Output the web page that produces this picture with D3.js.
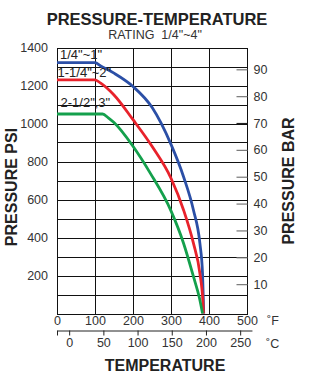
<!DOCTYPE html>
<html>
<head>
<meta charset="utf-8">
<script src="https://cdn.jsdelivr.net/npm/d3@7"></script>
<style>
  body { margin: 0; background: #fff; }
  text { font-family: "Liberation Sans", Arial, sans-serif; }
</style>
</head>
<body>
<svg id="chart" width="324" height="380"></svg>
<script>
// Valve size groups and their line colours
const sizeLabels = ['1/4"~1"', '1-1/4"~2"', '2-1/2",3"'];
const sizeColors = ['#2b4fa6', '#e8222b', '#14a04c'];

// Pressure (psi) against temperature (°F) for each size group
const tempsSmall = [0, 100, 115, 150, 200, 250, 300, 333, 359, 376, 383, 385, 386];
const psiSmall   = [1320, 1320, 1303, 1265, 1195, 1085, 890, 720, 545, 370, 210, 80, 0];

const tempsMedium = [0, 100, 115, 150, 200, 250, 300, 333, 359, 376, 384, 385.5];
const psiMedium   = [1230, 1230, 1212, 1150, 1020, 880, 712, 545, 370, 212, 60, 0];

const tempsLarge = [0, 120, 135, 150, 200, 245, 300, 333, 359, 375, 383];
const psiLarge   = [1050, 1050, 1030, 1005, 880, 740, 540, 370, 195, 80, 0];

// Axis ticks
const psiTicks = [200, 400, 600, 800, 1000, 1200, 1400];
const barTicks = [10, 20, 30, 40, 50, 60, 70, 80, 90];
const fahrenheitTicks = [0, 100, 200, 300, 400, 500];
const celsiusTicks = [0, 50, 100, 150, 200, 250];

const series = [
  { label: sizeLabels[0], color: sizeColors[0], temps: tempsSmall,  psi: psiSmall },
  { label: sizeLabels[1], color: sizeColors[1], temps: tempsMedium, psi: psiMedium },
  { label: sizeLabels[2], color: sizeColors[2], temps: tempsLarge,  psi: psiLarge }
];

const svg = d3.select('#chart');
const plotLeft = 57, plotRight = 247, plotTop = 47.5, plotBottom = 313.5;

const x = d3.scaleLinear().domain([0, 500]).range([plotLeft, plotRight]);
const y = d3.scaleLinear().domain([0, 1400]).range([plotBottom, plotTop]);
const yBar = d3.scaleLinear().domain([0, 90]).range([311, 69.3]);
const fToC = f => (f - 32) * 5 / 9;
const celsiusEnd = 513;
const xC = d3.scaleLinear().domain([fToC(0), fToC(celsiusEnd)]).range([x(0), x(celsiusEnd)]);

const crisp = v => Math.round(v) + 0.5;
const plain = d3.format('d');

// Title
svg.append('text').attr('x', 157).attr('y', 25).attr('text-anchor', 'middle')
  .attr('font-size', 16.5).attr('font-weight', 'bold').attr('fill', '#222')
  .text('PRESSURE-TEMPERATURE');
svg.append('text').attr('x', 155).attr('y', 38.5).attr('text-anchor', 'middle')
  .attr('font-size', 12.5).attr('fill', '#333')
  .text('RATING\u00a0\u00a01/4"~4"');

// Grid: every 100 psi and every 100 °F
const grid = svg.append('g').attr('stroke', '#111').attr('stroke-width', 1);
grid.selectAll('line.h').data(d3.range(0, 1401, 100)).join('line')
  .attr('x1', crisp(x(0)) - 0.5).attr('x2', crisp(x(500)) + 0.5)
  .attr('y1', d => crisp(y(d))).attr('y2', d => crisp(y(d)));
grid.selectAll('line.v').data(fahrenheitTicks).join('line')
  .attr('y1', crisp(y(1400))).attr('y2', crisp(y(0)))
  .attr('x1', d => crisp(x(d))).attr('x2', d => crisp(x(d)));

// Left psi axis
const axisL = svg.append('g').attr('transform', `translate(${x(0)},0)`)
  .call(d3.axisLeft(y).tickValues(psiTicks).tickFormat(plain).tickSize(0).tickPadding(9));
axisL.select('.domain').remove();
axisL.selectAll('text').attr('font-size', 12.5).attr('fill', '#333').attr('font-family', null);

// Right bar axis, ticks pointing into the plot
const axisR = svg.append('g').attr('transform', `translate(${crisp(x(500))},0)`)
  .call(d3.axisRight(yBar).tickValues(barTicks).tickFormat(plain).tickSizeInner(-11).tickSizeOuter(0).tickPadding(6));
axisR.select('.domain').remove();
axisR.selectAll('line').attr('stroke', d => d === 70 ? '#222' : '#777').attr('stroke-width', 1.2);
axisR.selectAll('text').attr('font-size', 12.5).attr('fill', '#333').attr('font-family', null);

// Bottom °F axis
const axisF = svg.append('g').attr('transform', `translate(0,${y(0)})`)
  .call(d3.axisBottom(x).tickValues(fahrenheitTicks).tickFormat(plain).tickSize(0).tickPadding(3));
axisF.select('.domain').remove();
axisF.selectAll('text').attr('font-size', 12.5).attr('fill', '#333').attr('font-family', null);
svg.append('text').attr('x', 267).attr('y', 325).attr('font-size', 12.5).attr('fill', '#333').text('˚F');

// Celsius scale below
const axisC = svg.append('g').attr('transform', 'translate(0,330.5)')
  .call(d3.axisBottom(xC).tickValues(celsiusTicks).tickFormat(plain).tickSizeInner(5).tickSizeOuter(0).tickPadding(3));
axisC.select('.domain').attr('stroke', '#222');
axisC.selectAll('line').attr('stroke', '#222');
axisC.append('line').attr('x1', crisp(x(0))).attr('x2', crisp(x(0))).attr('y1', 0).attr('y2', 5).attr('stroke', '#222');
axisC.selectAll('text').attr('font-size', 12.5).attr('fill', '#333').attr('font-family', null);
svg.append('text').attr('x', 266).attr('y', 348).attr('font-size', 12.5).attr('fill', '#333').text('˚C');

// Axis titles
svg.append('text').attr('transform', 'translate(17,187) rotate(-90)').attr('text-anchor', 'middle')
  .attr('font-size', 16).attr('font-weight', 'bold').attr('fill', '#222').text('PRESSURE PSI');
svg.append('text').attr('transform', 'translate(294,181) rotate(-90)').attr('text-anchor', 'middle')
  .attr('font-size', 16).attr('font-weight', 'bold').attr('fill', '#222').text('PRESSURE BAR');
svg.append('text').attr('x', 165).attr('y', 371).attr('text-anchor', 'middle')
  .attr('font-size', 16).attr('font-weight', 'bold').attr('fill', '#222').text('TEMPERATURE');

// Rating curves
const line = d3.line().x(d => x(d[0])).y(d => y(d[1])).curve(d3.curveMonotoneX);
svg.append('g').selectAll('path').data(series).join('path')
  .attr('d', s => line(d3.zip(s.temps, s.psi)))
  .attr('fill', 'none').attr('stroke', s => s.color).attr('stroke-width', 2.8)
  .attr('stroke-linejoin', 'round');

// Size labels above each curve's flat section
const labelPos = [[60, 58.5], [57.5, 77], [60.5, 107]];
svg.append('g').selectAll('text').data(series).join('text')
  .attr('x', (s, i) => labelPos[i][0]).attr('y', (s, i) => labelPos[i][1])
  .attr('font-size', 13).attr('fill', '#222').text(s => s.label);
</script>
</body>
</html>
